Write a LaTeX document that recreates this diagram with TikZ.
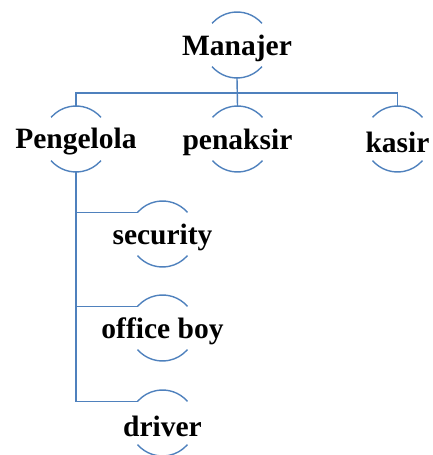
\documentclass[tikz,border=0pt]{standalone}
\usepackage{fontspec}
\setmainfont{Liberation Serif}
\definecolor{garisbiru}{RGB}{79,129,189}
\begin{document}
\begin{tikzpicture}[x=1pt,y=1pt,
  jabatan/.style={circle,minimum size=66pt,inner sep=0pt,outer sep=0pt,
    label={[font=\fontsize{29.5}{31}\selectfont\bfseries,yshift=-3pt]center:#1}},
  garis/.style={garisbiru,line width=1.4pt}]
\path[use as bounding box](0,0)rectangle(433,455);
\node[jabatan=Manajer](man)at(237,410){};
\node[jabatan=Pengelola](peng)at(76,316){};
\node[jabatan=penaksir](pen)at(237.5,316){};
\node[jabatan=kasir](kas)at(397.5,316){};
\node[jabatan=security](sec)at(162.5,221){};
\node[jabatan=office boy](off)at(162.5,127){};
\node[jabatan=driver](drv)at(162.5,32){};
\coordinate(bus)at(0,362);
\draw[garis](man.41)arc(41:139:33pt);
\draw[garis](man.221)arc(221:319:33pt);
\draw[garis](peng.41)arc(41:139:33pt);
\draw[garis](peng.221)arc(221:319:33pt);
\draw[garis](pen.41)arc(41:139:33pt);
\draw[garis](pen.221)arc(221:319:33pt);
\draw[garis](kas.41)arc(41:139:33pt);
\draw[garis](kas.221)arc(221:319:33pt);
\draw[garis](sec.41)arc(41:139:33pt);
\draw[garis](sec.221)arc(221:319:33pt);
\draw[garis](off.41)arc(41:139:33pt);
\draw[garis](off.221)arc(221:319:33pt);
\draw[garis](drv.41)arc(41:139:33pt);
\draw[garis](drv.221)arc(221:319:33pt);
\draw[garis](man.south)--(pen.north);
\draw[garis](peng.north)--(peng.north|-bus)--(kas.north|-bus)--(kas.north);
\draw[garis](peng.south)|-(sec.139);
\draw[garis](peng.south)|-(off.139);
\draw[garis](peng.south)|-(drv.139);
\end{tikzpicture}
\end{document}
